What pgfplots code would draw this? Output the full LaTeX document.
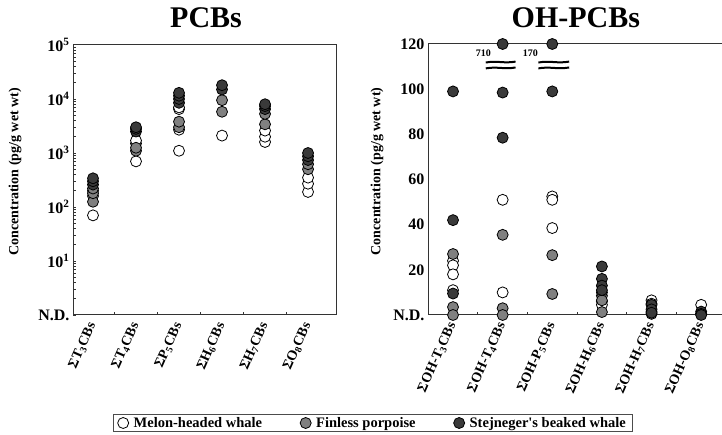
\documentclass[border=0pt]{standalone}
\usepackage{fontspec}
\setmainfont{Liberation Serif}
\usepackage{pgfplots}
\pgfplotsset{compat=1.18}

\definecolor{finless}{RGB}{128,128,128}
\definecolor{stej}{RGB}{58,58,58}

\pgfplotsset{
  panel/.style={
    scale only axis,
    only marks,
    clip=false,
    axis line style={black!80, line width=1pt},
    xtick={1,2,3,4,5,6},
    minor xtick={1.5,2.5,3.5,4.5,5.5},
    major tick length=0pt,
    minor tick length=3pt,
    tick style={black!80, line width=0.8pt},
    tick pos=left,
    xticklabel shift=7pt,
    xticklabel style={rotate=66, anchor=east, font=\fontsize{14}{16}\selectfont\bfseries, inner sep=1pt},
    yticklabel style={font=\fontsize{16}{18}\selectfont\bfseries},
    ylabel style={font=\fontsize{14}{16}\selectfont\bfseries, anchor=center, rotate=0},
    title style={font=\fontsize{30}{32}\selectfont\bfseries, anchor=center},
  },
  melon/.style={mark=*, mark size=5.5pt, mark options={fill=white, draw=black, line width=0.8pt}},
  fin/.style={mark=*, mark size=5.5pt, mark options={fill=finless, draw=black, line width=0.8pt}},
  stj/.style={mark=*, mark size=5.5pt, mark options={fill=stej, draw=black, line width=0.8pt}},
}

\begin{document}
\begin{tikzpicture}[x=1pt,y=1pt]
\useasboundingbox (0,0) rectangle (722,435);

% PCBs
\begin{axis}[panel,
  at={(73pt,120pt)}, anchor=south west,
  width=263pt, height=270pt,
  ymode=log, ymin=1, ymax=100000,
  xmin=0.535, xmax=6.65,
  ytick={1,10,100,1000,10000,100000},
  yticklabels={N.D.,10\textsuperscript{1},10\textsuperscript{2},10\textsuperscript{3},10\textsuperscript{4},10\textsuperscript{5}},
  xticklabels={ΣT\textsubscript{3}CBs,ΣT\textsubscript{4}CBs,ΣP\textsubscript{5}CBs,ΣH\textsubscript{6}CBs,ΣH\textsubscript{7}CBs,ΣO\textsubscript{8}CBs},
  ylabel={Concentration (pg/g wet wt)},
  ylabel style={at={(axis description cs:-0.22,0.53)}},
  title={PCBs},
  title style={at={(axis description cs:0.506,1.078)}},
  legend columns=3,
  legend style={at={(axis description cs:1.14,-0.40)}, anchor=center,
    draw=black!70, line width=0.8pt, font=\fontsize{14.5}{16}\selectfont\bfseries,
    inner xsep=4pt, inner ysep=1pt,
    /tikz/every odd column/.append style={column sep=3pt},
    /tikz/every even column/.append style={column sep=36pt}},
]
\addplot+[melon] coordinates {(1,70)(1,160)(1,200)(2,700)(2,1500)(2,1700)(3,1100)(3,2700)(3,6500)(3,7000)(4,2100)(5,1600)(5,2000)(5,2600)(6,190)(6,270)(6,350)};
\addplot+[fin] coordinates {(1,125)(1,180)(1,220)(2,1100)(2,1250)(3,3000)(3,3800)(4,5800)(4,9500)(5,3400)(5,5300)(6,500)(6,620)};
\addplot+[stj] coordinates {(1,260)(1,300)(1,340)(2,2500)(2,2800)(2,3000)(3,8500)(3,10000)(3,11500)(3,13000)(4,15000)(4,18000)(5,6500)(5,7400)(5,8000)(6,740)(6,870)(6,1000)};
\legend{Melon-headed whale,Finless porpoise,Stejneger\textquotesingle s beaked whale}
\end{axis}

% OH-PCBs
\begin{axis}[panel,
  at={(428pt,120pt)}, anchor=south west,
  width=294pt, height=271pt,
  axis x line*=box, axis y line*=left,
  ymin=0, ymax=120,
  xmin=0.496, xmax=6.42,
  ytick={0,20,40,60,80,100,120},
  yticklabels={N.D.,20,40,60,80,100,120},
  xticklabels={ΣOH-T\textsubscript{3}CBs,ΣOH-T\textsubscript{4}CBs,ΣOH-P\textsubscript{5}CBs,ΣOH-H\textsubscript{6}CBs,ΣOH-H\textsubscript{7}CBs,ΣOH-O\textsubscript{8}CBs},
  ylabel={Concentration (pg/g wet wt)},
  ylabel style={at={(axis description cs:-0.173,0.53)}},
  title={OH-PCBs},
  title style={at={(axis description cs:0.503,1.074)}},
]
\addplot+[melon] coordinates {(1,24)(1,22)(1,18)(1,11)(2,51)(2,10)(3,52.5)(3,51)(3,38.5)(4,8.5)(4,6)(4,4.5)(5,6.5)(5,5)(6,4.5)};
\addplot+[fin] coordinates {(1,27)(1,3.5)(1,0)(2,35.5)(2,3)(2,0)(3,26.5)(3,9.3)(4,10)(4,6.5)(4,1.3)(5,1.5)(5,0.5)(6,0.5)};
\addplot+[stj] coordinates {(1,99)(1,42)(1,9.5)(2,120)(2,98.5)(2,78.5)(3,120)(3,99)(4,21.5)(4,16)(4,13)(4,11)(5,4.5)(5,2.5)(5,1)(6,1.5)(6,0.5)(6,0)};
% axis breaks
\draw[line width=2pt] (axis cs:1.66,111.8) to[out=10,in=190] (axis cs:2.26,112.2);
\draw[line width=2pt] (axis cs:1.66,109.2) to[out=10,in=190] (axis cs:2.26,109.6);
\draw[line width=2pt] (axis cs:2.72,111.8) to[out=10,in=190] (axis cs:3.34,112.2);
\draw[line width=2pt] (axis cs:2.72,109.2) to[out=10,in=190] (axis cs:3.34,109.6);
\node[font=\fontsize{10}{12}\selectfont\bfseries] at (axis cs:1.61,116) {710};
\node[font=\fontsize{10}{12}\selectfont\bfseries] at (axis cs:2.56,116) {170};
\end{axis}
\end{tikzpicture}
\end{document}
